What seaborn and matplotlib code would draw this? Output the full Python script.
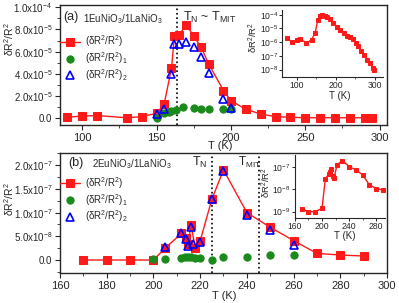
import matplotlib
matplotlib.use("Agg")
import matplotlib.pyplot as plt
from matplotlib.ticker import MultipleLocator, LogLocator, NullFormatter
import seaborn as sns

# ---- panel (a): 1EuNiO3/1LaNiO3 ----
t_a = [90, 100, 110, 130, 140, 150, 155, 160, 162, 165, 170, 175, 180, 185, 195, 200,
       210, 220, 230, 240, 250, 260, 270, 280, 290, 295]
tot_a = [0.1e-5, 0.2e-5, 0.25e-5, 0.05e-5, 0.15e-5, 0.45e-5, 1.25e-5, 4.5e-5, 7.4e-5, 7.5e-5,
         8.4e-5, 7.4e-5, 6.4e-5, 4.9e-5, 2.5e-5, 1.6e-5, 0.8e-5, 0.4e-5, 0.15e-5, 0.1e-5,
         0.05e-5, 0.05e-5, 0.05e-5, 0.05e-5, 0.05e-5, 0.05e-5]
t1_a = [150, 155, 158, 160, 163, 168, 175, 180, 185, 195, 200]
s1_a = [0.0, 0.45e-5, 0.6e-5, 0.7e-5, 0.75e-5, 1.05e-5, 0.95e-5, 0.8e-5, 0.8e-5, 0.8e-5, 0.8e-5]
t2_a = [150, 155, 160, 162, 165, 170, 175, 180, 185, 195, 200]
s2_a = [0.4e-5, 0.85e-5, 3.95e-5, 6.7e-5, 6.7e-5, 6.85e-5, 6.4e-5, 5.5e-5, 4.1e-5, 1.7e-5, 0.95e-5]
tn_a = 164

# inset (a), log scale
ti_a = [75, 87, 100, 108, 125, 138, 147, 154, 160, 165, 172, 178, 185, 194, 203, 211, 220,
        228, 237, 243, 251, 258, 264, 273, 281, 288, 295, 299]
vi_a = [2.0e-6, 1.0e-6, 1.35e-6, 1.8e-6, 8.7e-7, 1.5e-6, 4.7e-6, 3.9e-5, 7.6e-5, 8.9e-5,
        8.5e-5, 6.8e-5, 4.9e-5, 2.5e-5, 1.3e-5, 7.2e-6, 4.7e-6, 3.0e-6, 2.4e-6, 1.7e-6,
        8.7e-7, 5.0e-7, 2.1e-7, 1.2e-7, 5.4e-8, 2.8e-8, 1.3e-8, 8.9e-9]

# ---- panel (b): 2EuNiO3/1LaNiO3 ----
t_b = [170, 180, 190, 200, 205, 212, 214, 215, 216, 218, 220, 225, 230, 240, 250, 260,
       270, 280, 290]
tot_b = [0.0, 0.0, 0.0, 0.0, 2.5e-8, 5.6e-8, 4.6e-8, 3.3e-8, 7.4e-8, 2.5e-8, 4.0e-8,
         1.28e-7, 1.9e-7, 1.0e-7, 6.9e-8, 4.1e-8, 1.4e-8, 1.05e-8, 0.85e-8]
t1_b = [200, 205, 212, 213.5, 215, 216, 218, 220, 225, 230, 240, 250, 260]
s1_b = [0.15e-8, 0.15e-8, 0.35e-8, 0.55e-8, 0.55e-8, 0.55e-8, 0.35e-8, 0.35e-8, 0.0,
        0.55e-8, 0.55e-8, 1.05e-8, 1.05e-8]
t2_b = [205, 212, 214, 215, 216, 217, 220, 225, 230, 240, 250, 260]
s2_b = [2.8e-8, 5.75e-8, 4.4e-8, 2.95e-8, 6.9e-8, 3.4e-8, 3.85e-8, 1.28e-7, 1.88e-7,
        9.5e-8, 6.3e-8, 3.2e-8]
tn_b = 225
tmit_b = 245

ti_b = [170, 180, 190, 200, 205, 210, 212, 214, 216, 218, 222, 230, 240, 250, 260, 270, 280, 290]
vi_b = [1.3e-9, 1.0e-9, 1.0e-9, 1.4e-9, 3.0e-8, 5.0e-8, 6.3e-8, 8.1e-8, 4.0e-8, 3.2e-8,
        1.26e-7, 2.0e-7, 1.07e-7, 7.6e-8, 4.5e-8, 1.6e-8, 1.1e-8, 9.5e-9]

yt_a = [0, 2e-5, 4e-5, 6e-5, 8e-5, 1e-4]
yl_a = ["0.0", "2.0x10$^{-5}$", "4.0x10$^{-5}$", "6.0x10$^{-5}$", "8.0x10$^{-5}$", "1.0x10$^{-4}$"]
yt_b = [0, 5e-8, 1e-7, 1.5e-7, 2e-7]
yl_b = ["0.0", "5.0x10$^{-8}$", "1.0x10$^{-7}$", "1.5x10$^{-7}$", "2.0x10$^{-7}$"]

lab0 = "(δR$^2$/R$^2$)"
lab1 = "(δR$^2$/R$^2$)$_1$"
lab2 = "(δR$^2$/R$^2$)$_2$"

sns.set_style("ticks")
plt.rcParams["font.family"] = ["Liberation Sans", "DejaVu Sans"]
plt.rcParams["mathtext.fontset"] = "custom"
plt.rcParams["mathtext.rm"] = "Liberation Sans"
plt.rcParams["mathtext.it"] = "Liberation Sans:italic"
plt.rcParams["mathtext.default"] = "regular"
plt.rcParams["xtick.direction"] = "out"
plt.rcParams["ytick.direction"] = "out"

fig = plt.figure(figsize=(3.99, 3.03), dpi=100)
ax_a = fig.add_axes([0.1504, 0.5875, 0.8195, 0.396])
ax_b = fig.add_axes([0.1504, 0.098, 0.8195, 0.396])


def draw_main(ax, t, tot, t1, s1, t2, s2):
    sns.lineplot(x=t, y=tot, ax=ax, color="#ff1a1a", lw=1.0, marker="s", ms=5.2,
                 mec="#ff1a1a", estimator=None, sort=False, label=lab0, zorder=2)
    sns.lineplot(x=t1, y=s1, ax=ax, color="#1a8a1a", ls="", marker="o", ms=5.2,
                 mec="#1a8a1a", estimator=None, sort=False, label=lab1, zorder=3)
    sns.lineplot(x=t2, y=s2, ax=ax, color="blue", ls="", marker="^", ms=5.8, mfc="none",
                 mec="blue", mew=1.2, estimator=None, sort=False, label=lab2, zorder=4)
    for s in ax.spines.values():
        s.set_linewidth(1.0)
    ax.tick_params(axis="x", labelsize=8, length=3.5, width=0.8, pad=2)
    ax.tick_params(axis="y", labelsize=7, length=3.5, width=0.8, pad=2)
    ax.tick_params(which="minor", length=2, width=0.6)
    ax.set_ylabel("δR$^2$/R$^2$", fontsize=7.5)
    ax.set_xlabel("T (K)", fontsize=8)


def add_legend(ax, top):
    ax.legend(loc="upper left", bbox_to_anchor=(-0.005, top), frameon=False, fontsize=7,
              handlelength=2.0, handletextpad=0.5, labelspacing=0.1, borderpad=0.2,
              borderaxespad=0)


draw_main(ax_a, t_a, tot_a, t1_a, s1_a, t2_a, s2_a)
ax_a.set_xlim(85, 305)
ax_a.set_ylim(-0.6e-5, 1.02e-4)
ax_a.set_yticks(yt_a, yl_a)
ax_a.xaxis.set_major_locator(MultipleLocator(50))
ax_a.xaxis.set_minor_locator(MultipleLocator(25))
ax_a.yaxis.set_minor_locator(MultipleLocator(1e-5))
ax_a.axvline(tn_a, color="black", ls=":", lw=1.2, zorder=1)
ax_a.text(0.01, 0.9, "(a)", transform=ax_a.transAxes, fontsize=9, va="center")
ax_a.text(0.07, 0.885, "1EuNiO$_3$/1LaNiO$_3$", transform=ax_a.transAxes, fontsize=7, va="center")
ax_a.text(0.375, 0.9, "T$_N$ ~ T$_{MIT}$", transform=ax_a.transAxes, fontsize=9, va="center")
ax_a.yaxis.set_label_coords(-0.135, 0.72)
ax_a.xaxis.set_label_coords(0.49, -0.133)
add_legend(ax_a, 0.78)

draw_main(ax_b, t_b, tot_b, t1_b, s1_b, t2_b, s2_b)
ax_b.set_xlim(160, 300)
ax_b.set_ylim(-2.8e-8, 2.25e-7)
ax_b.set_yticks(yt_b, yl_b)
ax_b.xaxis.set_major_locator(MultipleLocator(20))
ax_b.xaxis.set_minor_locator(MultipleLocator(10))
ax_b.yaxis.set_minor_locator(MultipleLocator(2.5e-8))
ax_b.axvline(tn_b, color="black", ls=":", lw=1.2, zorder=1)
ax_b.axvline(tmit_b, color="black", ls=":", lw=1.2, zorder=1)
ax_b.text(0.025, 0.92, "(b)", transform=ax_b.transAxes, fontsize=9, va="center")
ax_b.text(0.098, 0.91, "2EuNiO$_3$/1LaNiO$_3$", transform=ax_b.transAxes, fontsize=7, va="center")
ax_b.text(0.405, 0.92, "T$_N$", transform=ax_b.transAxes, fontsize=9, va="center")
ax_b.text(0.545, 0.92, "T$_{MIT}$", transform=ax_b.transAxes, fontsize=8.5, va="center")
ax_b.yaxis.set_label_coords(-0.135, 0.62)
ax_b.xaxis.set_label_coords(0.503, -0.148)
add_legend(ax_b, 0.835)


def draw_inset(ax, t, v):
    sns.lineplot(x=t, y=v, ax=ax, color="#ff1a1a", lw=1.0, marker="s", ms=3, mec="#ff1a1a",
                 estimator=None, sort=False)
    ax.set_yscale("log")
    ax.set_facecolor("none")
    sns.despine(ax=ax)
    ax.tick_params(labelsize=6.2, length=2, width=0.7, pad=1)
    ax.tick_params(which="minor", length=1.5, width=0.5)
    ax.yaxis.set_major_locator(LogLocator(base=10, numticks=10))
    ax.yaxis.set_minor_locator(LogLocator(base=10, subs=[], numticks=10))
    ax.yaxis.set_minor_formatter(NullFormatter())
    ax.set_ylabel("δR$^2$/R$^2$", fontsize=6.8)
    ax.set_xlabel("T (K)", fontsize=7)


ins_a = fig.add_axes([0.7075, 0.7475, 0.2524, 0.22])
draw_inset(ins_a, ti_a, vi_a)
ins_a.set_xlim(63, 321)
ins_a.set_ylim(10 ** -8.5, 10 ** -3.65)
ins_a.xaxis.set_major_locator(MultipleLocator(100))
ins_a.xaxis.set_minor_locator(MultipleLocator(50))
ins_a.yaxis.set_label_coords(-0.22, 0.59)
ins_a.xaxis.set_label_coords(0.57, -0.21)

ins_b = fig.add_axes([0.739, 0.2795, 0.226, 0.209])
draw_inset(ins_b, ti_b, vi_b)
ins_b.set_xlim(160, 293)
ins_b.set_ylim(10 ** -9.3, 10 ** -6.45)
ins_b.xaxis.set_major_locator(MultipleLocator(40))
ins_b.xaxis.set_minor_locator(MultipleLocator(20))
ins_b.yaxis.set_label_coords(-0.245, 0.56)
ins_b.xaxis.set_label_coords(0.55, -0.2)

fig.savefig("out.png", dpi=100)
